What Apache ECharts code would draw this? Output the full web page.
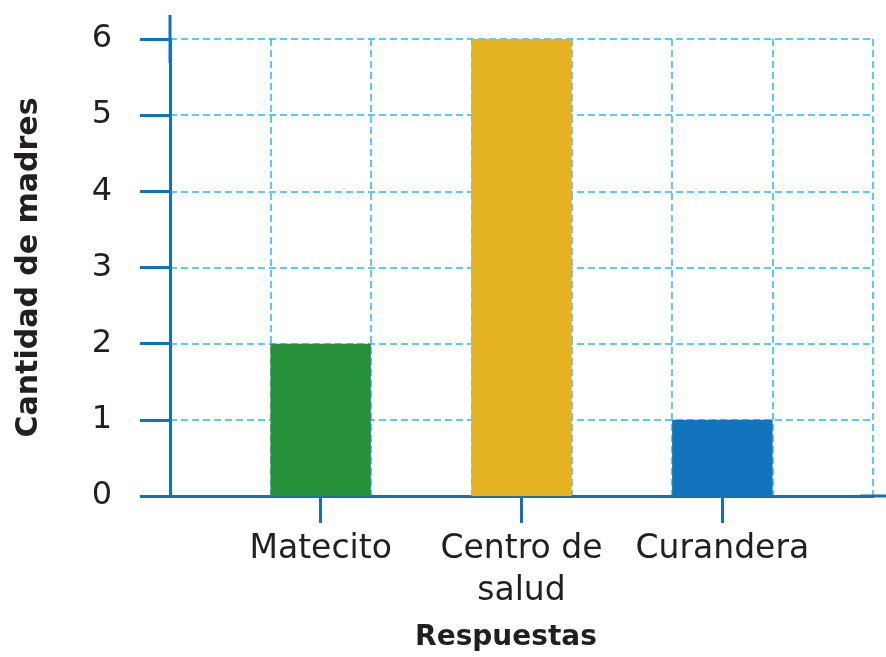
<!DOCTYPE html>
<html>
<head>
<meta charset="utf-8">
<script src="https://cdn.jsdelivr.net/npm/echarts@6/dist/echarts.min.js"></script>
<style>
  html, body { margin: 0; padding: 0; background: #ffffff; }
  #chart { width: 886px; height: 657px; }
</style>
</head>
<body>
<div id="chart"></div>
<script>
// Responses and how many mothers gave each one
const categories = ['Matecito', 'Centro de\nsalud', 'Curandera'];
const counts = [2, 6, 1];
const barColors = ['#27903a', '#e4b222', '#1174bd'];
const yMin = 0;
const yMax = 6;
const yStep = 1;

// Each response sits in its own slot with an empty slot on either side,
// so the grid has twice as many columns as there are responses, plus one.
const slots = [];
const slotValues = [];
categories.forEach(function (name, i) {
  slots.push('');
  slotValues.push('-');
  slots.push(name);
  slotValues.push({ value: counts[i], itemStyle: { color: barColors[i] } });
});
slots.push('');
slotValues.push('-');

const axisBlue = '#1172ba';
const gridBlue = '#2cb7f0';
const textColor = '#231f20';
const font = 'DejaVu Sans';

const chart = echarts.init(document.getElementById('chart'), null, { renderer: 'canvas' });
chart.setOption({
  animation: false,
  backgroundColor: '#ffffff',
  grid: { left: 170, right: 13, top: 39, bottom: 159, containLabel: false },
  xAxis: {
    type: 'category',
    data: slots,
    boundaryGap: true,
    name: 'Respuestas',
    nameLocation: 'middle',
    nameGap: 128,
    nameTextStyle: {
      fontFamily: font, fontWeight: 'bold', fontSize: 28, color: textColor,
      padding: [0, 31, 0, 0]
    },
    axisLine: {
      show: true,
      lineStyle: { color: axisBlue, width: 3 },
      symbol: ['none', 'rect'],
      symbolSize: [3, 26]
    },
    axisTick: {
      show: true,
      alignWithLabel: true,
      length: 27,
      interval: function (index) { return index % 2 === 1; },
      lineStyle: { color: axisBlue, width: 3 }
    },
    axisLabel: {
      interval: 0,
      margin: 32,
      fontFamily: font,
      fontSize: 33,
      lineHeight: 42,
      color: textColor
    },
    splitLine: {
      show: true,
      interval: 0,
      lineStyle: { color: gridBlue, width: 1.5, type: [7, 4] }
    }
  },
  yAxis: {
    type: 'value',
    min: yMin,
    max: yMax,
    interval: yStep,
    name: 'Cantidad de madres',
    nameLocation: 'middle',
    nameGap: 126,
    nameTextStyle: {
      fontFamily: font, fontWeight: 'bold', fontSize: 30, color: textColor
    },
    axisLine: {
      show: true,
      lineStyle: { color: axisBlue, width: 3 },
      symbol: ['none', 'rect'],
      symbolSize: [3, 48]
    },
    axisTick: {
      show: true,
      length: 30,
      lineStyle: { color: axisBlue, width: 3 }
    },
    axisLabel: {
      margin: 58,
      fontFamily: font,
      fontSize: 32,
      color: textColor
    },
    splitLine: {
      show: true,
      lineStyle: { color: gridBlue, width: 1.5, type: [7, 4] }
    }
  },
  series: [{
    type: 'bar',
    data: slotValues,
    barWidth: '100%',
    barGap: '0%',
    z: 1
  }]
});
</script>
</body>
</html>
